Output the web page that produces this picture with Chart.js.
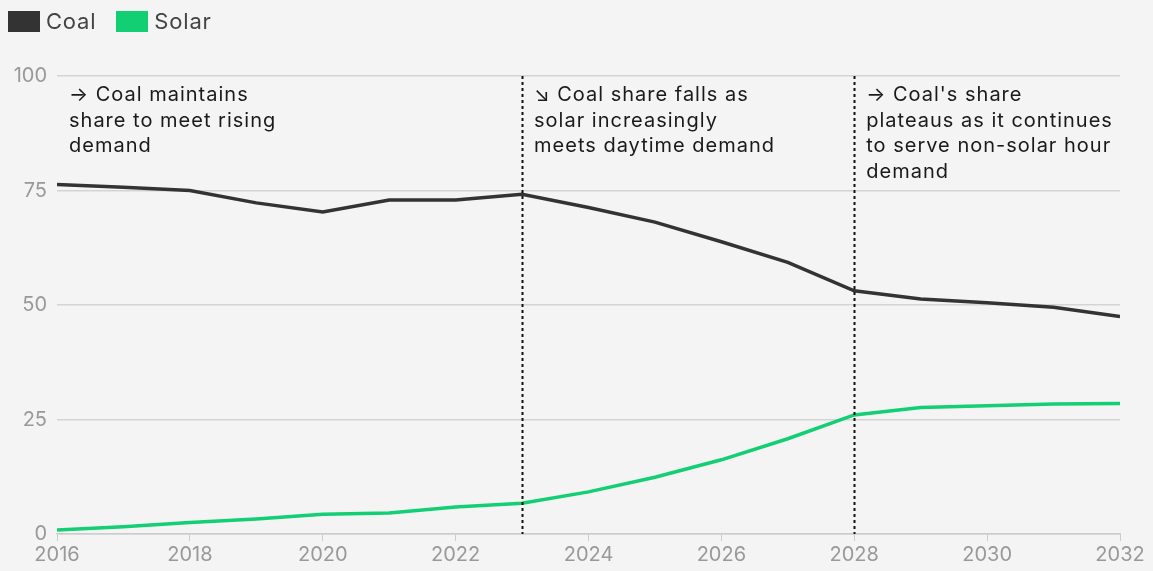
<!DOCTYPE html>
<html>
<head>
<meta charset="utf-8">
<script src="https://cdn.jsdelivr.net/npm/chart.js@4.4.1/dist/chart.umd.min.js"></script>
<style>
  html, body { margin: 0; padding: 0; background: #f4f4f4; }
  body { width: 1153px; height: 571px; position: relative; overflow: hidden; font-family: Inter, "Noto Sans", sans-serif; }
  #wrap { position: absolute; left: 0; top: 0; width: 1153px; height: 571px; }
  .legend { position: absolute; left: 8px; top: 8px; display: flex; align-items: center; font-size: 22px; letter-spacing: 0.8px; color: #444; }
  .legend span.sw { display: inline-block; width: 32px; height: 21px; margin-right: 6px; }
  .legend .item { display: flex; align-items: center; margin-right: 20px; }
</style>
</head>
<body>
<div id="wrap"><canvas id="chart"></canvas></div>
<div class="legend">
  <div class="item"><span class="sw" style="background:#333333"></span>Coal</div>
  <div class="item"><span class="sw" style="background:#13cf74"></span>Solar</div>
</div>
<script>
// Share of generation, 2016-2032
const years = [2016, 2017, 2018, 2019, 2020, 2021, 2022, 2023, 2024, 2025, 2026, 2027, 2028, 2029, 2030, 2031, 2032];
const coal = [76.3, 75.7, 75.0, 72.3, 70.3, 72.9, 72.9, 74.2, 71.3, 68.1, 63.8, 59.3, 53.1, 51.3, 50.5, 49.5, 47.5];
const solar = [0.9, 1.6, 2.5, 3.3, 4.3, 4.6, 5.9, 6.7, 9.2, 12.4, 16.2, 20.8, 26.0, 27.6, 28.0, 28.4, 28.5];
const yTicks = [0, 25, 50, 75, 100];

// Vertical markers and their notes
const markerYears = [2023, 2028];
const notes = [
  { year: 2016, lines: ['\u2192 Coal maintains', 'share to meet rising', 'demand'] },
  { year: 2023, lines: ['\u2198 Coal share falls as', 'solar increasingly', 'meets daytime demand'] },
  { year: 2028, lines: ['\u2192 Coal\'s share', 'plateaus as it continues', 'to serve non-solar hour', 'demand'] }
];

const notesPlugin = {
  id: 'notes',
  afterDatasetsDraw(chart) {
    const { ctx, chartArea, scales: { x, y } } = chart;
    ctx.save();
    ctx.strokeStyle = '#111';
    ctx.lineWidth = 2;
    ctx.setLineDash([3, 3]);
    markerYears.forEach(yr => {
      const px = Math.round(x.getPixelForValue(yr)) + 0.5;
      ctx.beginPath();
      ctx.moveTo(px, chartArea.top);
      ctx.lineTo(px, chartArea.bottom);
      ctx.stroke();
    });
    ctx.setLineDash([]);
    ctx.fillStyle = '#1a1a1a';
    ctx.font = '20px Inter, "Noto Sans", sans-serif';
    ctx.letterSpacing = '1px';
    ctx.textBaseline = 'middle';
    notes.forEach(n => {
      const px = x.getPixelForValue(n.year) + 12;
      n.lines.forEach((line, i) => {
        ctx.fillText(line, px, y.getPixelForValue(100) + 19 + i * 25.5);
      });
    });
    ctx.restore();
  }
};

new Chart(document.getElementById('chart'), {
  type: 'line',
  data: {
    labels: years,
    datasets: [
      {
        label: 'Coal',
        data: years.map((yr, i) => ({ x: yr, y: coal[i] })),
        borderColor: '#333333',
        borderWidth: 3.5,
        pointRadius: 0,
        tension: 0
      },
      {
        label: 'Solar',
        data: years.map((yr, i) => ({ x: yr, y: solar[i] })),
        borderColor: '#13cf74',
        borderWidth: 3.5,
        pointRadius: 0,
        tension: 0
      }
    ]
  },
  options: {
    responsive: true,
    maintainAspectRatio: false,
    animation: false,
    layout: { padding: { top: 76, right: 33, left: 0, bottom: 0 } },
    plugins: {
      legend: { display: false },
      tooltip: { enabled: false }
    },
    scales: {
      x: {
        type: 'linear',
        min: 2016,
        max: 2032,
        afterFit: s => { s.height = 37; },
        ticks: {
          stepSize: 2,
          color: '#999',
          padding: 2,
          maxRotation: 0,
          font: { family: 'Inter, "Noto Sans", sans-serif', size: 20 },
          callback: v => String(v)
        },
        grid: {
          drawOnChartArea: false,
          drawTicks: true,
          tickLength: 7,
          color: '#cccccc'
        },
        border: { color: '#cccccc', width: 1.5 }
      },
      y: {
        min: 0,
        max: 100,
        afterFit: s => { s.width = 57; },
        afterBuildTicks: s => { s.ticks = yTicks.map(v => ({ value: v })); },
        ticks: {
          color: '#999',
          padding: 10,
          font: { family: 'Inter, "Noto Sans", sans-serif', size: 20 }
        },
        grid: { color: '#d4d4d4', lineWidth: 1.5, drawTicks: false },
        border: { display: false }
      }
    }
  },
  plugins: [notesPlugin]
});
</script>
</body>
</html>
